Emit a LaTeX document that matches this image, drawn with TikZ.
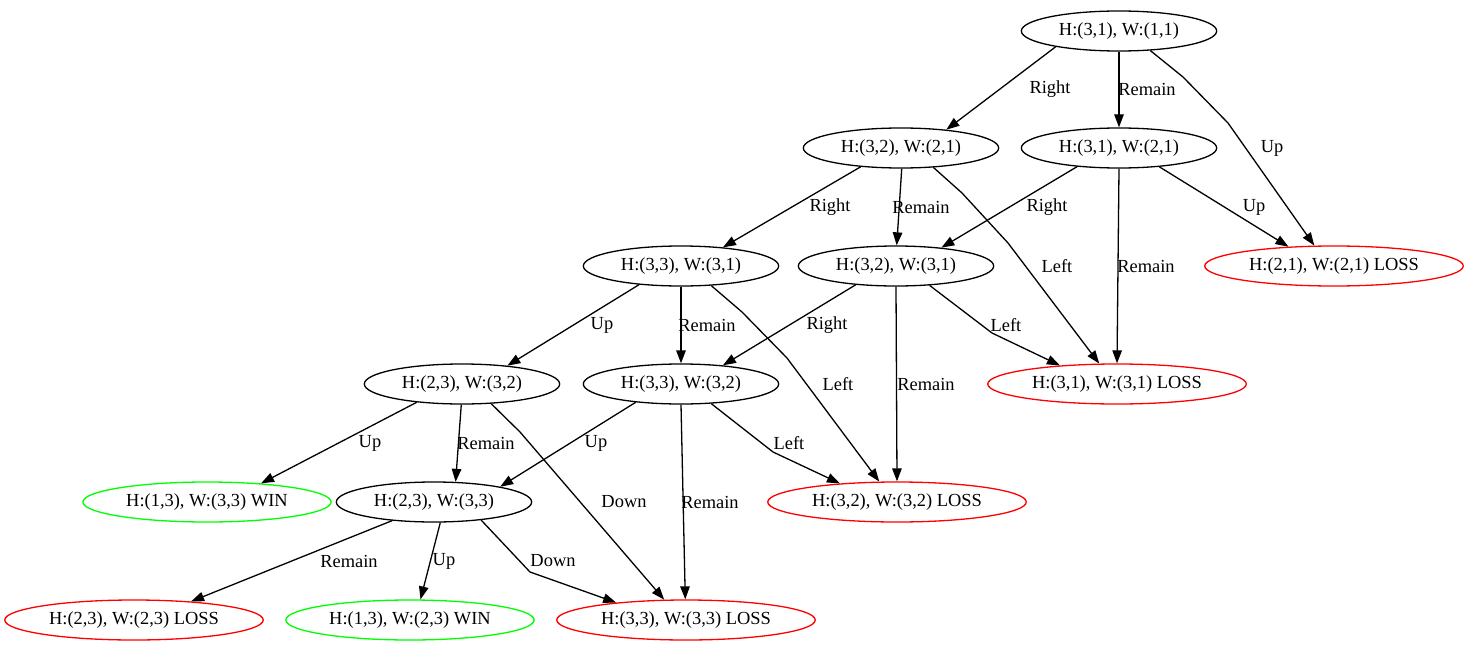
\documentclass[tikz,border=0pt]{standalone}
\usepackage{fontspec}
\setmainfont{Liberation Serif}
\usetikzlibrary{arrows.meta, shapes.geometric}
\definecolor{LossRed}{HTML}{FF0000}
\definecolor{WinGreen}{HTML}{00FF00}
\tikzset{
  state/.style={draw=black, line width=1.3bp, ellipse, inner xsep=9bp, inner ysep=0pt, minimum height=40bp, font=\fontsize{18.5}{20}\selectfont},
  loss/.style={state, draw=LossRed, inner xsep=6.5bp},
  win/.style={state, draw=WinGreen, inner xsep=7bp},
  arrow/.style={-{Triangle[length=13bp, width=9.5bp]}, line width=1.3bp, line join=round, draw=black},
  lbl/.style={font=\fontsize{18.5}{20}\selectfont, inner sep=1pt}
}
\begin{document}
\begin{tikzpicture}[x=1bp, y=-1bp]
\useasboundingbox (0,0) rectangle (1465,649);

\node[state] (n0) at (1119,31) {H:(3,1), W:(1,1)};
\node[state] (n1) at (901,148) {H:(3,2), W:(2,1)};
\node[state] (n2) at (1119,148) {H:(3,1), W:(2,1)};
\node[state] (n3) at (681,266) {H:(3,3), W:(3,1)};
\node[state] (n4) at (896,266) {H:(3,2), W:(3,1)};
\node[loss] (n5) at (1334,266) {H:(2,1), W:(2,1) LOSS};
\node[state] (n6) at (462,384) {H:(2,3), W:(3,2)};
\node[state] (n7) at (681,384) {H:(3,3), W:(3,2)};
\node[loss] (n8) at (1117,384) {H:(3,1), W:(3,1) LOSS};
\node[win] (n9) at (207,502) {H:(1,3), W:(3,3) WIN};
\node[state] (n10) at (434,502) {H:(2,3), W:(3,3)};
\node[loss] (n11) at (897,502) {H:(3,2), W:(3,2) LOSS};
\node[loss] (n12) at (134,620) {H:(2,3), W:(2,3) LOSS};
\node[win] (n13) at (410,620) {H:(1,3), W:(2,3) WIN};
\node[loss] (n14) at (686,620) {H:(3,3), W:(3,3) LOSS};

\draw[arrow] (n0.194) -- (n1.22) node[lbl, at={(1050,89)}] {Right};
\draw[arrow] (n0.270) -- (n2.90) node[lbl, at={(1147,89)}] {Remain};
\draw[arrow] (n0.328) -- (1183,77) -- (1228,123) -- (n5.134) node[lbl, at={(1272,148)}] {Up};
\draw[arrow] (n1.205) -- (n3.24) node[lbl, at={(830,207)}] {Right};
\draw[arrow] (n1.272) -- (n4.88) node[lbl, at={(921,207)}] {Remain};
\draw[arrow] (n1.329) -- (962,193) -- (1008,243) -- (n8.131) node[lbl, at={(1057,266)}] {Left};
\draw[arrow] (n2.204) -- (n4.22) node[lbl, at={(1047,207)}] {Right};
\draw[arrow] (n2.270) -- (n8.90) node[lbl, at={(1146,266)}] {Remain};
\draw[arrow] (n2.335) -- (n5.157) node[lbl, at={(1254,207)}] {Up};
\draw[arrow] (n3.204) -- (n6.22) node[lbl, at={(602,325)}] {Up};
\draw[arrow] (n3.270) -- (n7.90) node[lbl, at={(707,325)}] {Remain};
\draw[arrow] (n3.327) -- (742,312) -- (787,358) -- (n11.131) node[lbl, at={(838,384)}] {Left};
\draw[arrow] (n4.205) -- (n7.24) node[lbl, at={(827,325)}] {Right};
\draw[arrow] (n4.270) -- (n11.90) node[lbl, at={(926,384)}] {Remain};
\draw[arrow] (n4.330) -- (992,333) -- (n8.162) node[lbl, at={(1006,325)}] {Left};
\draw[arrow] (n6.202) -- (n9.19) node[lbl, at={(370,443)}] {Up};
\draw[arrow] (n6.268) -- (n10.43) node[lbl, at={(486,443)}] {Remain};
\draw[arrow] (n6.326) -- (520,432) -- (n14.137) node[lbl, at={(624,502)}] {Down};
\draw[arrow] (n7.202) -- (n10.13) node[lbl, at={(596,443)}] {Up};
\draw[arrow] (n7.270) -- (n14.92) node[lbl, at={(710,502)}] {Remain};
\draw[arrow] (n7.327) -- (773,452) -- (n11.162) node[lbl, at={(789,443)}] {Left};
\draw[arrow] (n10.204) -- (n12.18) node[lbl, at={(349,561)}] {Remain};
\draw[arrow] (n10.287) -- (n13.63) node[lbl, at={(444,561)}] {Up};
\draw[arrow] (n10.339) -- (530,572) -- (n14.166) node[lbl, at={(553,561)}] {Down};
\end{tikzpicture}
\end{document}
